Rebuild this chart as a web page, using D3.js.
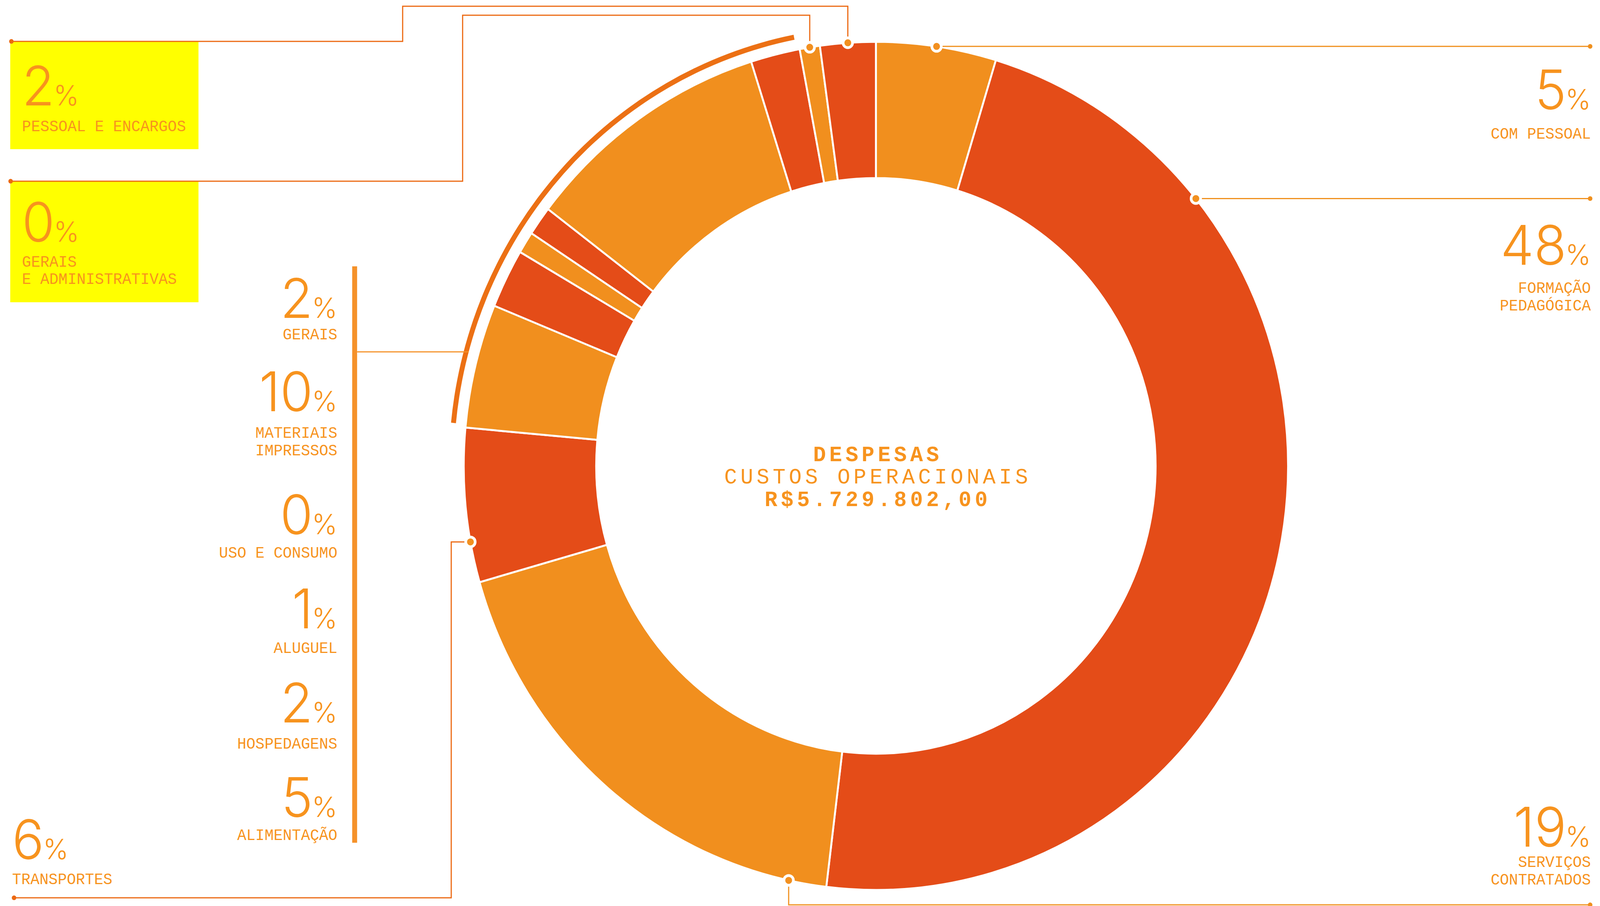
<!DOCTYPE html>
<html>
<head>
<meta charset="utf-8">
<title>despesas</title>
<script src="https://d3js.org/d3.v7.min.js"></script>
<style>
  html, body { margin: 0; padding: 0; background: #fff; overflow: hidden; width: 100%; height: 100%; }
  #chart { width: 100vw; height: 100vh; }
  svg { display: block; width: 100%; height: 100%; }
</style>
</head>
<body>
<div id="chart"></div>
<script>
// fatias no sentido horario a partir do topo
const categories = ['COM PESSOAL', 'FORMAÇÃO PEDAGÓGICA', 'SERVIÇOS CONTRATADOS', 'TRANSPORTES',
  'ALIMENTAÇÃO', 'HOSPEDAGENS', 'ALUGUEL', 'USO E CONSUMO', 'MATERIAIS IMPRESSOS', 'GERAIS',
  'GERAIS E ADMINISTRATIVAS', 'PESSOAL E ENCARGOS']
// tamanho de cada fatia (em %)
const shares = [4.7, 47.2, 18.65, 5.86, 4.72, 2.25, 0.83, 1.11, 9.75, 1.93, 0.79, 2.17]
// percentual impresso no rotulo
const printed = ['5', '48', '19', '6', '5', '2', '1', '0', '10', '2', '0', '2']
// linhas do rotulo
const labelLines = [['COM PESSOAL'], ['FORMAÇÃO', 'PEDAGÓGICA'], ['SERVIÇOS', 'CONTRATADOS'], ['TRANSPORTES'],
  ['ALIMENTAÇÃO'], ['HOSPEDAGENS'], ['ALUGUEL'], ['USO E CONSUMO'], ['MATERIAIS', 'IMPRESSOS'], ['GERAIS'],
  ['GERAIS', 'E ADMINISTRATIVAS'], ['PESSOAL E ENCARGOS']]
// fatias agrupadas pelo arco da esquerda
const groupStart = 'ALIMENTAÇÃO', groupEnd = 'GERAIS'
const centerLines = ['DESPESAS', 'CUSTOS OPERACIONAIS', 'R$5.729.802,00']

const W = 4216, H = 2320
const cx = 2308, cy = 1193, R = 1086, r0 = 737
const ORANGE = '#f18f1e', RED = '#e44c18', TXT = '#f7931e', LINE_L = '#ec6912', LINE_R = '#f0901e'
const NUM_FONT = 'Inter, "Open Sans", sans-serif'
const LAB_FONT = '"Liberation Mono", "DejaVu Sans Mono", monospace'

// posicao dos rotulos: ancoragem, x, base do numero, bases das linhas
const labelPos = {
  'COM PESSOAL': {anchor: 'end', x: 4192, num: 280, lines: [355]},
  'FORMAÇÃO PEDAGÓGICA': {anchor: 'end', x: 4192, num: 678, lines: [750, 795]},
  'SERVIÇOS CONTRATADOS': {anchor: 'end', x: 4192, num: 2168, lines: [2220, 2265]},
  'TRANSPORTES': {anchor: 'start', x: 32, num: 2200, lines: [2264]},
  'PESSOAL E ENCARGOS': {anchor: 'start', x: 58, num: 270, lines: [336], box: [27, 107, 496, 275]},
  'GERAIS E ADMINISTRATIVAS': {anchor: 'start', x: 58, num: 619, lines: [683, 727], box: [27, 465, 496, 309]},
  'GERAIS': {anchor: 'end', x: 889, num: 814, lines: [869]},
  'MATERIAIS IMPRESSOS': {anchor: 'end', x: 889, num: 1053, lines: [1121, 1166]},
  'USO E CONSUMO': {anchor: 'end', x: 889, num: 1368, lines: [1428]},
  'ALUGUEL': {anchor: 'end', x: 889, num: 1609, lines: [1672]},
  'HOSPEDAGENS': {anchor: 'end', x: 889, num: 1850, lines: [1917]},
  'ALIMENTAÇÃO': {anchor: 'end', x: 889, num: 2092, lines: [2151]}
}

// linhas de chamada: ponto dentro da fatia (fracao) e percurso
const leaders = {
  'COM PESSOAL': {at: 0.5, color: LINE_R, steps: [{x: 4190}]},
  'FORMAÇÃO PEDAGÓGICA': {at: 0.2, color: LINE_R, steps: [{x: 4190}]},
  'SERVIÇOS CONTRATADOS': {at: 0.079, color: LINE_R, steps: [{y: 2317}, {x: 4190}]},
  'TRANSPORTES': {at: 0.265, color: LINE_L, steps: [{x: 1189}, {y: 2299}, {x: 37}]},
  'PESSOAL E ENCARGOS': {at: 0.5, color: LINE_L, steps: [{y: 16}, {x: 1061}, {y: 106}, {x: 30}]},
  'GERAIS E ADMINISTRATIVAS': {at: 0.5, color: LINE_L, steps: [{y: 39}, {x: 1219}, {y: 464}, {x: 28}]}
}

function mkSVG() {
  // preenche a janela inteira, qualquer que seja o tamanho real
  const svg = d3.select('#chart').append('svg')
    .attr('viewBox', `0 0 ${W} ${H}`)
    .attr('preserveAspectRatio', 'none')
    .style('background', '#fff')

  const data = categories.map((c, i) => ({name: c, value: shares[i], pct: printed[i], lines: labelLines[i]}))
  const pie = d3.pie().sort(null).value(d => d.value)
  const arcs = pie(data)
  const arc = d3.arc().innerRadius(r0).outerRadius(R)

  // caixas amarelas
  arcs.forEach(a => {
    const p = labelPos[a.data.name]
    if (p.box) {
      svg.append('rect').attr('x', p.box[0]).attr('y', p.box[1])
        .attr('width', p.box[2]).attr('height', p.box[3]).attr('fill', '#ffff00')
    }
  })

  const g = svg.append('g').attr('transform', `translate(${cx},${cy})`)

  // rosca
  g.selectAll('path.slice')
    .data(arcs)
    .enter()
    .append('path')
    .attr('class', 'slice')
    .attr('d', arc)
    .attr('fill', (d, i) => i % 2 ? RED : ORANGE)
    .attr('stroke', '#fff')
    .attr('stroke-width', 5)

  // arco do grupo
  const a0 = arcs.find(d => d.data.name == groupStart)
  const a1 = arcs.find(d => d.data.name == groupEnd)
  const pad = 0.008
  const bracket = d3.arc().innerRadius(1112).outerRadius(1125)
  g.append('path')
    .attr('d', bracket({startAngle: a0.startAngle + pad, endAngle: a1.endAngle - pad}))
    .attr('fill', '#ec7014')

  // barra vertical + ligacao ao arco
  const barX = 928, barW = 13
  svg.append('rect').attr('x', barX).attr('y', 682).attr('width', barW).attr('height', 1476).attr('fill', '#f5922a')
  const yc = 901
  const xArc = cx - Math.sqrt(1112 * 1112 - (yc - cy) * (yc - cy))
  svg.append('line').attr('x1', barX + barW).attr('x2', xArc).attr('y1', yc).attr('y2', yc)
    .attr('stroke', '#f5922a').attr('stroke-width', 3)

  // linhas de chamada
  arcs.forEach(a => {
    const L = leaders[a.data.name]
    if (!L) return
    const ang = a.startAngle + (a.endAngle - a.startAngle) * L.at
    let x = cx + Math.sin(ang) * R, y = cy - Math.cos(ang) * R
    const dot = [x, y]
    const pts = [[x, y]]
    L.steps.forEach(s => {
      if (s.x !== undefined) x = s.x
      if (s.y !== undefined) y = s.y
      pts.push([x, y])
    })
    svg.append('path').attr('d', d3.line()(pts))
      .attr('fill', 'none').attr('stroke', L.color).attr('stroke-width', 3)
    svg.append('circle').attr('cx', x).attr('cy', y).attr('r', 6).attr('fill', L.color)
    svg.append('circle').attr('cx', dot[0]).attr('cy', dot[1]).attr('r', 12.5)
      .attr('fill', '#f29020').attr('stroke', '#fff').attr('stroke-width', 7)
  })

  // rotulos
  arcs.forEach(a => {
    const p = labelPos[a.data.name]
    const t = svg.append('text')
      .attr('x', p.x).attr('y', p.num)
      .attr('text-anchor', p.anchor)
      .attr('fill', TXT)
      .style('font-family', NUM_FONT)
      .style('font-weight', 300)
    t.append('tspan').attr('font-size', 140).text(a.data.pct)
    t.append('tspan').attr('font-size', 72).attr('dx', -3).text('%')

    a.data.lines.forEach((ln, k) => {
      svg.append('text')
        .attr('x', p.x).attr('y', p.lines[k])
        .attr('text-anchor', p.anchor)
        .attr('fill', TXT)
        .style('font-family', LAB_FONT)
        .style('font-size', '40px')
        .text(ln)
    })
  })

  // texto central
  const cBase = [1181, 1238, 1296]
  centerLines.forEach((s, i) => {
    svg.append('text')
      .attr('x', cx + 5).attr('y', cBase[i])
      .attr('text-anchor', 'middle')
      .attr('fill', TXT)
      .style('font-family', LAB_FONT)
      .style('font-size', '56px')
      .style('font-weight', i == 1 ? 400 : 700)
      .style('letter-spacing', '9px')
      .text(s)
  })
}

mkSVG()
</script>
</body>
</html>
